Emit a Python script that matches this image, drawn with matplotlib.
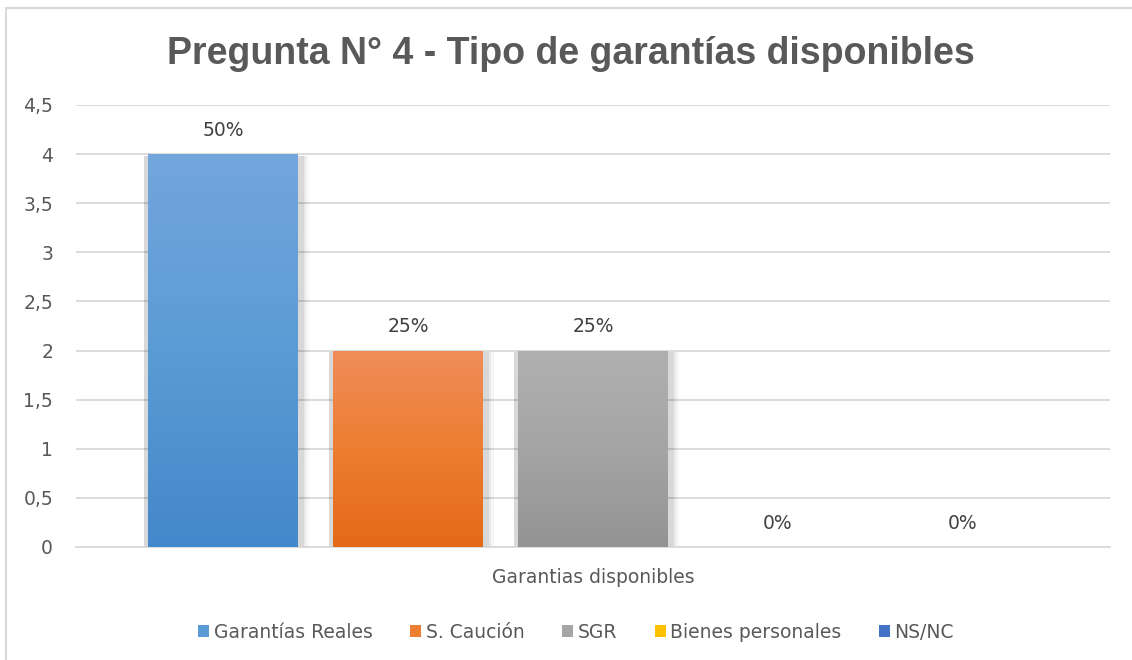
import numpy as np
import matplotlib.pyplot as plt
from matplotlib.patches import Rectangle
from matplotlib.colors import LinearSegmentedColormap

# data
series = ["Garantías Reales", "S. Caución", "SGR", "Bienes personales", "NS/NC"]
values = [4, 2, 2, 0, 0]
pct_labels = ["50%", "25%", "25%", "0%", "0%"]
category = "Garantias disponibles"
title = "Pregunta N° 4 - Tipo de garantías disponibles"

base_colors = ["#5B9BD5", "#ED7D31", "#A5A5A5", "#FFC000", "#4472C4"]
grad_top = ["#73A6DC", "#F08D5A", "#B0B0B0", "#FFCD3A", "#5B85CF"]
grad_bot = ["#4388CA", "#E46A18", "#939393", "#E0A800", "#3762B0"]

txt = "#595959"
fnt = "DejaVu Sans"
fs = 13.5

fig = plt.figure(figsize=(11.32, 6.60), dpi=100)
ax = fig.add_axes([76 / 1132, 113 / 660, (1110 - 76) / 1132, (547 - 105) / 660])

# chart border (only top and left visible in the reference)
fig.patches.append(Rectangle((6 / 1132, -0.1), 1.2, (660 - 8) / 660 + 0.1,
                             transform=fig.transFigure, fill=False,
                             edgecolor="#D9D9D9", linewidth=1.5, zorder=0))

x = np.arange(len(values))
w = 150 / 185
bars = ax.bar(x, values, width=w, color=base_colors, zorder=3, linewidth=0)

for i, b in enumerate(bars):
    h = b.get_height()
    if h <= 0:
        continue
    # soft shadow
    for dx, a in [(0.06, 0.035), (0.045, 0.05), (0.03, 0.07)]:
        ax.add_patch(Rectangle((b.get_x() - 0.02, 0), b.get_width() + 0.02 + dx, h - 0.015,
                               facecolor="#000000", alpha=a, linewidth=0, zorder=2))
    cmap = LinearSegmentedColormap.from_list("g%d" % i, [grad_bot[i], base_colors[i], grad_top[i]])
    grad = np.linspace(0, 1, 256).reshape(-1, 1)
    im = ax.imshow(grad, cmap=cmap, aspect="auto", origin="lower",
                   extent=(b.get_x(), b.get_x() + b.get_width(), 0, h), zorder=4)
    im.set_clip_path(b)

for xi, v, lab in zip(x, values, pct_labels):
    ax.text(xi, v + 0.24, lab, ha="center", va="center", fontsize=fs,
            color="#404040", family=fnt, zorder=5)

ax.set_xlim(-0.5 - 0.295, len(values) - 0.5 + 0.295)
ax.set_ylim(0, 4.5)
ax.set_yticks(np.arange(0, 4.51, 0.5))
ax.set_yticklabels([("%g" % t).replace(".", ",") for t in np.arange(0, 4.51, 0.5)])
ax.set_xticks([])
ax.yaxis.grid(True, color="#D9D9D9", linewidth=1.3, zorder=0)
ax.set_axisbelow(True)
for s in ["top", "right", "left"]:
    ax.spines[s].set_visible(False)
ax.spines["bottom"].set_color("#D9D9D9")
ax.spines["bottom"].set_linewidth(1.3)
ax.tick_params(axis="y", length=0, pad=16.5, labelsize=fs, labelcolor=txt)
for t in ax.get_yticklabels():
    t.set_family(fnt)

ax.set_xlabel(category, fontsize=fs, color=txt, family=fnt, labelpad=15)

fig.text(0.504, 1 - 54 / 660, title, ha="center", va="center", fontsize=27,
         fontweight="bold", color=txt, family="Liberation Sans")

handles = [Rectangle((0, 0), 1, 1, facecolor=c, linewidth=0) for c in base_colors]
leg = fig.legend(handles, series, loc="center", bbox_to_anchor=(0.509, 1 - 632 / 660),
                 ncol=5, frameon=False, handlelength=0.58, handleheight=0.58,
                 handletextpad=0.25, columnspacing=2.0,
                 prop={"family": fnt, "size": fs})
for t in leg.get_texts():
    t.set_color(txt)

fig.savefig("out.png", dpi=100, facecolor="white")
